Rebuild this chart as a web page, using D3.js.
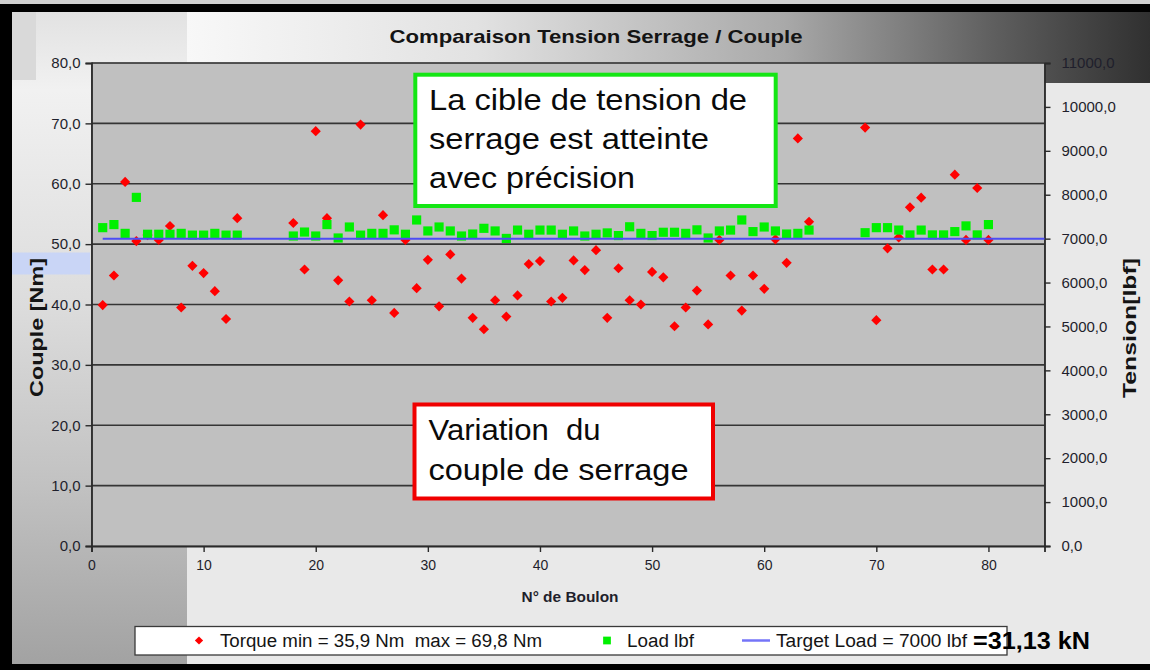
<!DOCTYPE html>
<html>
<head>
<meta charset="utf-8">
<script src="https://cdn.jsdelivr.net/npm/d3@7"></script>
<style>
  html, body { margin: 0; padding: 0; background: #e9e9e9; }
  svg { display: block; font-family: "Liberation Sans", Arial, sans-serif; }
</style>
</head>
<body>
<svg id="chart" width="1150" height="670"></svg>
<script>
// Bolt numbers that were measured
const bolts = [1,2,3,4,5,6,7,8,9,10,11,12,13,
  18,19,20,21,22,23,24,25,26,27,28,29,30,31,32,33,34,35,36,37,38,39,40,
  41,42,43,44,45,46,47,48,49,50,51,52,53,54,55,56,57,58,59,60,61,62,63,64,
  69,70,71,72,73,74,75,76,77,78,79,80];

// Tightening torque per bolt [Nm]
const torque = [39.9,44.8,60.3,50.5,51.5,50.7,53.0,39.5,46.4,45.2,42.2,37.6,54.3,
  53.5,45.8,68.7,54.3,44.0,40.5,69.8,40.7,54.8,38.6,50.7,42.7,47.4,39.7,48.3,44.3,37.8,35.9,40.7,38.0,41.5,46.7,47.2,
  40.5,41.1,47.3,45.7,49.0,37.8,46.0,40.7,40.0,45.4,44.5,36.4,39.5,42.3,36.7,50.7,44.8,39.0,44.8,42.6,50.8,46.9,67.5,53.7,
  69.3,37.4,49.3,51.1,56.1,57.7,45.8,45.8,61.5,50.7,59.3,50.7];

// Measured bolt load per bolt [lbf]
const load = [7250,7320,7120,7940,7100,7100,7100,7120,7080,7080,7120,7080,7080,
  7060,7150,7060,7320,7015,7265,7080,7120,7120,7200,7100,7425,7175,7265,7175,7060,7105,7235,7175,7005,7195,7100,7195,
  7195,7100,7175,7060,7100,7130,7070,7270,7120,7070,7145,7145,7120,7200,7015,7175,7195,7425,7160,7265,7175,7105,7120,7195,
  7135,7250,7250,7195,7085,7195,7085,7085,7160,7290,7085,7320];

// Target load line [lbf]
const targetX = [1, 85];
const targetLoad = [7000, 7000];

// Axis ticks
const xTicks = [0,10,20,30,40,50,60,70,80];
const leftTicks = [0,10,20,30,40,50,60,70,80];
const rightTicks = [0,1000,2000,3000,4000,5000,6000,7000,8000,9000,10000,11000];

const fmt1 = v => d3.format(".1f")(v).replace(".", ",");

const svg = d3.select("#chart");
const defs = svg.append("defs");

// ---- background panels ----
const gLeft = defs.append("linearGradient").attr("id", "gLeft")
  .attr("gradientUnits", "userSpaceOnUse").attr("x1", 0).attr("y1", 12).attr("x2", 0).attr("y2", 665);
[[0, "#e2e2e2"], [0.12, "#f1f1f1"], [0.45, "#dcdcdc"], [0.72, "#c2c2c2"], [1, "#a2a2a2"]]
  .forEach(([o, c]) => gLeft.append("stop").attr("offset", o).attr("stop-color", c));

const gTop = defs.append("linearGradient").attr("id", "gTop")
  .attr("gradientUnits", "userSpaceOnUse").attr("x1", 187).attr("y1", 0).attr("x2", 1150).attr("y2", 0);
[[0, "#f8f8f8"], [0.3, "#e2e2e2"], [0.62, "#a9a9a9"], [0.84, "#5e5e5e"], [1, "#303030"]]
  .forEach(([o, c]) => gTop.append("stop").attr("offset", o).attr("stop-color", c));

svg.append("rect").attr("x", 0).attr("y", 0).attr("width", 1150).attr("height", 670).attr("fill", "#e9e9e9");
svg.append("rect").attr("x", 12).attr("y", 12).attr("width", 175).attr("height", 653).attr("fill", "url(#gLeft)");
svg.append("rect").attr("x", 12).attr("y", 12).attr("width", 24).attr("height", 68).attr("fill", "#d9d9d9");
svg.append("rect").attr("x", 187).attr("y", 12).attr("width", 963).attr("height", 52).attr("fill", "url(#gTop)");
svg.append("rect").attr("x", 1044).attr("y", 63).attr("width", 106).attr("height", 20).attr("fill", "url(#gTop)");
svg.append("rect").attr("x", 8).attr("y", 252.5).attr("width", 82).attr("height", 22).attr("fill", "#c9d5f6");

// outer black frame
svg.append("rect").attr("x", 0).attr("y", 0).attr("width", 1150).attr("height", 4).attr("fill", "#d0d0d0");
svg.append("rect").attr("x", 0).attr("y", 4).attr("width", 1150).attr("height", 8).attr("fill", "#000");
svg.append("rect").attr("x", 0).attr("y", 4).attr("width", 12).attr("height", 666).attr("fill", "#000");
svg.append("rect").attr("x", 0).attr("y", 664).attr("width", 1150).attr("height", 6).attr("fill", "#000");

// ---- scales ----
const x = d3.scaleLinear().domain([0, 85]).range([91.5, 1044.5]);
const yL = d3.scaleLinear().domain([0, 80]).range([546, 63]);
const yR = d3.scaleLinear().domain([0, 11000]).range([546, 63]);

// plot area
svg.append("rect").attr("x", x(0)).attr("y", yL(80))
  .attr("width", x(85) - x(0)).attr("height", yL(0) - yL(80))
  .attr("fill", "#c0c0c0").attr("stroke", "#7a7a7a").attr("stroke-width", 1);

// horizontal gridlines
svg.append("g").selectAll("line").data(leftTicks.filter(d => d > 0)).join("line")
  .attr("x1", x(0)).attr("x2", x(85))
  .attr("y1", d => yL(d)).attr("y2", d => yL(d))
  .attr("stroke", "#353535").attr("stroke-width", 1.6);

const txtColor = "#1f1f2c";

// left axis
const axL = svg.append("g").attr("transform", `translate(${x(0)},0)`)
  .call(d3.axisLeft(yL).tickValues(leftTicks).tickFormat(fmt1).tickSize(6).tickPadding(5));
// right axis
const axR = svg.append("g").attr("transform", `translate(${x(85)},0)`)
  .call(d3.axisRight(yR).tickValues(rightTicks).tickFormat(fmt1).tickSize(6).tickPadding(11));
// bottom axis
const axB = svg.append("g").attr("transform", `translate(0,${yL(0)})`)
  .call(d3.axisBottom(x).tickValues(xTicks).tickFormat(d3.format("d")).tickSize(6).tickPadding(8));

[axL, axR, axB].forEach(ax => {
  ax.select(".domain").attr("stroke", "#2a2a2a").attr("stroke-width", 1.8);
  ax.selectAll(".tick line").attr("stroke", "#2a2a2a").attr("stroke-width", 1.4);
  ax.selectAll(".tick text").attr("fill", txtColor).attr("font-size", 15)
    .attr("font-family", "'Liberation Sans', Arial, sans-serif");
});
axB.selectAll(".tick text").attr("font-size", 14);

// ---- annotation boxes ----
const note1 = ["La cible de tension de", "serrage est atteinte", "avec précision"];
const note1W = [318, 280, 206];
svg.append("rect").attr("x", 415.3).attr("y", 74.7).attr("width", 360.4).attr("height", 131.3)
  .attr("fill", "#fff").attr("stroke", "#14e614").attr("stroke-width", 4);
note1.forEach((t, i) => svg.append("text").attr("x", 429).attr("y", 110 + i * 38.8)
  .attr("font-size", 30).attr("fill", "#0a0a0a")
  .attr("textLength", note1W[i]).attr("lengthAdjust", "spacingAndGlyphs").text(t));

const note2 = ["Variation  du", "couple de serrage"];
const note2W = [172, 260];
svg.append("rect").attr("x", 414.5).attr("y", 404.5).attr("width", 298.5).attr("height", 94)
  .attr("fill", "#fff").attr("stroke", "#f00000").attr("stroke-width", 4);
note2.forEach((t, i) => svg.append("text").attr("x", 428.5).attr("y", 440 + i * 39.5)
  .attr("font-size", 30).attr("fill", "#0a0a0a").attr("xml:space", "preserve")
  .attr("textLength", note2W[i]).attr("lengthAdjust", "spacingAndGlyphs").text(t));

// ---- series ----
const diamond = d3.symbol(d3.symbolSquare, 52);
const square = d3.symbol(d3.symbolSquare, 84);

svg.append("g").selectAll("path").data(bolts).join("path")
  .attr("d", diamond)
  .attr("transform", (d, i) => `translate(${x(d)},${yL(torque[i])}) rotate(45)`)
  .attr("fill", "#ff0000");

svg.append("g").selectAll("path").data(bolts).join("path")
  .attr("d", square)
  .attr("transform", (d, i) => `translate(${x(d)},${yR(load[i])})`)
  .attr("fill", "#00f000");

svg.append("path")
  .datum(targetX.map((d, i) => [d, targetLoad[i]]))
  .attr("d", d3.line().x(d => x(d[0])).y(d => yR(d[1])))
  .attr("fill", "none").attr("stroke", "#4c4cf5").attr("stroke-width", 2);

// ---- titles ----
svg.append("text").attr("x", 596).attr("y", 43).attr("text-anchor", "middle")
  .attr("font-size", 19).attr("font-weight", "bold").attr("fill", "#141414")
  .attr("textLength", 413).attr("lengthAdjust", "spacingAndGlyphs")
  .text("Comparaison Tension Serrage / Couple");

svg.append("text").attr("x", 570).attr("y", 602).attr("text-anchor", "middle")
  .attr("font-size", 14).attr("font-weight", "bold").attr("fill", txtColor)
  .attr("textLength", 97).attr("lengthAdjust", "spacingAndGlyphs")
  .text("N° de Boulon");

svg.append("text").attr("transform", "translate(43,327.5) rotate(-90)").attr("text-anchor", "middle")
  .attr("font-size", 18).attr("font-weight", "bold").attr("fill", "#141414")
  .attr("textLength", 139).attr("lengthAdjust", "spacingAndGlyphs")
  .text("Couple [Nm]");

svg.append("text").attr("transform", "translate(1136,328) rotate(-90)").attr("text-anchor", "middle")
  .attr("font-size", 18).attr("font-weight", "bold").attr("fill", "#141414")
  .attr("textLength", 140).attr("lengthAdjust", "spacingAndGlyphs")
  .text("Tension[lbf]");

// ---- legend ----
const legend = svg.append("g");
legend.append("rect").attr("x", 135).attr("y", 626.5).attr("width", 872).attr("height", 28.5)
  .attr("fill", "#fff").attr("stroke", "#3a3a3a").attr("stroke-width", 1.3);
const legY = 640.5;
legend.append("path").attr("d", d3.symbol(d3.symbolSquare, 34))
  .attr("transform", `translate(199,${legY}) rotate(45)`).attr("fill", "#ff0000");
legend.append("text").attr("x", 220).attr("y", legY + 6.5).attr("font-size", 18).attr("fill", "#141414")
  .attr("xml:space", "preserve").attr("textLength", 322).attr("lengthAdjust", "spacingAndGlyphs")
  .text("Torque min = 35,9 Nm  max = 69,8 Nm");
legend.append("path").attr("d", d3.symbol(d3.symbolSquare, 60))
  .attr("transform", `translate(607,${legY})`).attr("fill", "#00f000");
legend.append("text").attr("x", 627).attr("y", legY + 6.5).attr("font-size", 18).attr("fill", "#141414")
  .attr("textLength", 67).attr("lengthAdjust", "spacingAndGlyphs").text("Load lbf");
legend.append("line").attr("x1", 742).attr("x2", 770).attr("y1", legY).attr("y2", legY)
  .attr("stroke", "#7474f8").attr("stroke-width", 2.5);
legend.append("text").attr("x", 776).attr("y", legY + 6.5).attr("font-size", 18).attr("fill", "#141414")
  .attr("textLength", 191).attr("lengthAdjust", "spacingAndGlyphs").text("Target Load = 7000 lbf");
legend.append("text").attr("x", 973).attr("y", legY + 8).attr("font-size", 23).attr("font-weight", "bold")
  .attr("fill", "#000").attr("textLength", 117).attr("lengthAdjust", "spacingAndGlyphs").text("=31,13 kN");
</script>
</body>
</html>
